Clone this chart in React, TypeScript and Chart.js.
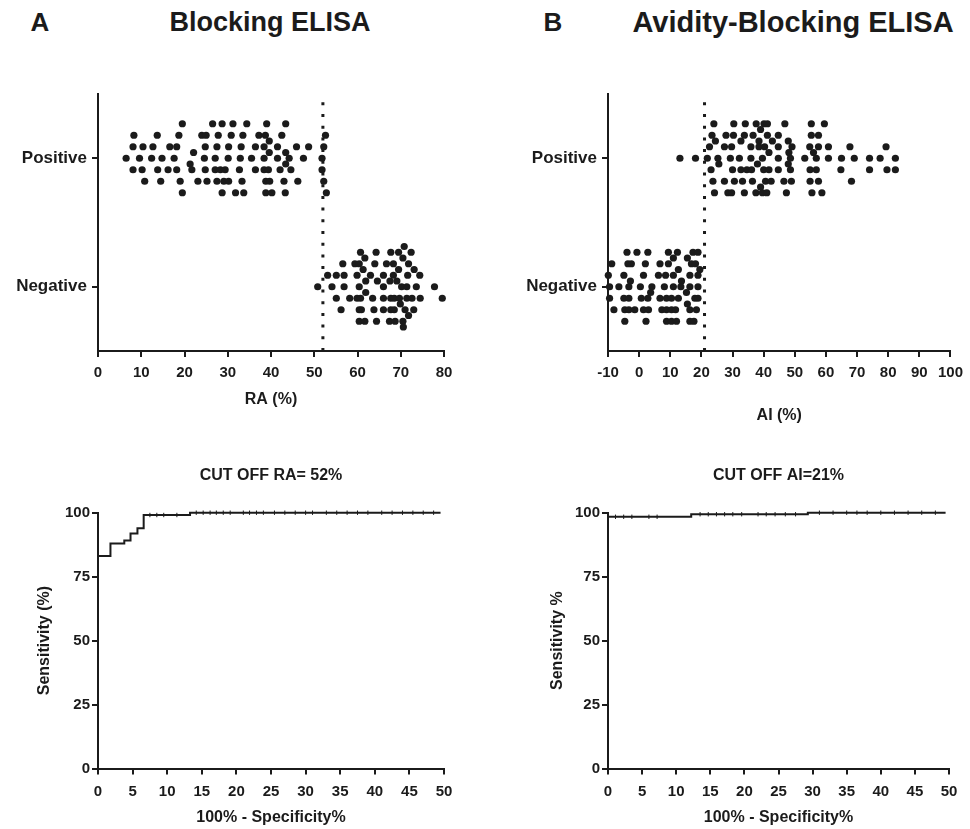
import { useEffect, useRef } from 'react';
import { Chart, registerables } from 'chart.js';

Chart.register(...registerables);

const FONT = 'Arial, "Liberation Sans", Helvetica, sans-serif';
const INK = '#1b1b1b';

// ---------- Dot plots (top row) ----------
const groupCategories = ['Negative', 'Positive'];
type Lane = { lane: number; values: number[] };

// Panel A: Blocking ELISA, RA (%)
const blockingPositiveRA: Lane[] = [
  { lane: 3, values: [19.5, 26.5, 28.7, 31.2, 34.4, 39, 43.4] },
  { lane: 2, values: [8.3, 13.7, 18.7, 24, 25, 27.8, 30.8, 33.5, 37.2, 38.7, 42.5, 52.6] },
  { lane: 1.5, values: [39.6] },
  { lane: 1, values: [8.1, 10.4, 12.7, 16.6, 18.2, 24.8, 27.5, 30.2, 33.1, 36.4, 38.4, 41.5, 45.9, 48.7, 52.2] },
  { lane: 0.5, values: [22.1, 39.6, 43.4] },
  { lane: 0, values: [6.5, 9.6, 12.4, 14.8, 17.6, 24.6, 27.1, 30.1, 32.9, 35.5, 38.4, 41.5, 44.2, 47.5, 51.8] },
  { lane: -0.5, values: [21.3, 43.4] },
  { lane: -1, values: [8.1, 10.2, 13.8, 16.2, 18.2, 21.7, 24.8, 27.1, 28.3, 29.4, 32.7, 36.4, 38.4, 39.4, 42.1, 44.6, 51.8] },
  { lane: -2, values: [10.8, 14.5, 19, 23.1, 25.2, 27.5, 29.1, 30.2, 33.3, 38.8, 39.7, 43, 46.2, 52.2] },
  { lane: -3, values: [19.5, 28.7, 31.8, 33.7, 38.8, 40.2, 43.3, 52.8] },
];
const blockingNegativeRA: Lane[] = [
  { lane: 3.5, values: [70.8] },
  { lane: 3, values: [60.7, 64.3, 67.7, 69.5, 72.4] },
  { lane: 2.5, values: [61.7, 70.5] },
  { lane: 2, values: [56.6, 59.4, 60.4, 64, 66.7, 68.3, 71.8] },
  { lane: 1.5, values: [61.3, 69.5, 73.1] },
  { lane: 1, values: [53.1, 55.1, 56.9, 59.9, 63, 66, 68.3, 71.6, 74.4] },
  { lane: 0.5, values: [61.9, 64.6, 67.5, 69.1] },
  { lane: 0, values: [50.8, 54.1, 56.9, 60.4, 66, 70.2, 71.4, 73.6, 77.8] },
  { lane: -0.5, values: [61.9] },
  { lane: -1, values: [55.1, 58.2, 59.9, 60.7, 63.5, 66, 67.7, 68.5, 69.7, 71.4, 72.6, 74.5, 79.6] },
  { lane: -1.5, values: [69.9] },
  { lane: -2, values: [56.2, 60.4, 60.9, 63.8, 66, 67.7, 68.5, 71, 73] },
  { lane: -2.5, values: [71.8] },
  { lane: -3, values: [60.4, 61.7, 64.4, 67.4, 68.7, 70.5] },
  { lane: -3.5, values: [70.6] },
];
const blockingCutoffRA = 52;
const raAxisRange = [0, 80, 10];

// Panel B: Avidity-Blocking ELISA, AI (%)
const avidityPositiveAI: Lane[] = [
  { lane: 3, values: [24, 30.4, 34.1, 37.6, 40.1, 41.2, 46.8, 55.3, 59.5] },
  { lane: 2.5, values: [39] },
  { lane: 2, values: [23.4, 27.9, 30.3, 33.8, 36.6, 41.2, 44.7, 55.3, 57.6] },
  { lane: 1.5, values: [24.5, 32.7, 38.5, 42.8, 47.9] },
  { lane: 1, values: [22.6, 27.4, 29.7, 35.9, 38.5, 40.3, 44.7, 49.1, 54.8, 57.6, 60.8, 67.7, 79.3] },
  { lane: 0.5, values: [41.7, 48.1, 56] },
  { lane: 0, values: [13.1, 18.1, 21.9, 25.3, 29.3, 32.2, 35.9, 39.6, 44.7, 48.6, 53.2, 56.9, 60.8, 65, 69.1, 74, 77.4, 82.3] },
  { lane: -0.5, values: [25.6, 38, 47.9] },
  { lane: -1, values: [23.1, 30, 32.7, 34.6, 36.1, 40, 41.7, 44.7, 48.6, 54.9, 56.9, 64.8, 74, 79.6, 82.3] },
  { lane: -2, values: [23.7, 27.4, 30.6, 33.2, 36.4, 40.6, 42.4, 46.5, 48.9, 54.9, 57.6, 68.2] },
  { lane: -2.5, values: [39] },
  { lane: -3, values: [24.2, 28.5, 29.7, 33.8, 37.5, 39.6, 41, 47.3, 55.5, 58.7] },
];
const avidityNegativeAI: Lane[] = [
  { lane: 3, values: [-3.9, -0.7, 2.8, 9.4, 12.3, 17.3, 18.9] },
  { lane: 2.5, values: [11, 15.5] },
  { lane: 2, values: [-8.8, -3.6, -2.5, 2, 6.7, 9.4, 16.8, 18.1] },
  { lane: 1.5, values: [12.6, 19.5] },
  { lane: 1, values: [-9.9, -4.9, 1.4, 6.2, 8.5, 11, 16.3, 18.9] },
  { lane: 0.5, values: [-2.8, 13.6] },
  { lane: 0, values: [-9.5, -6.5, -3.3, 0.4, 4.1, 8.1, 11, 13.4, 16.3, 18.9] },
  { lane: -0.5, values: [3.7, 15.2] },
  { lane: -1, values: [-9.5, -4.9, -3.3, 0.7, 2.8, 6.7, 8.8, 10.4, 12.6, 17.9, 18.9] },
  { lane: -1.5, values: [15.5] },
  { lane: -2, values: [-8.1, -4.6, -3.3, -1.4, 1.4, 3, 7.3, 8.8, 10.4, 11.7, 16.3, 18.4] },
  { lane: -3, values: [-4.6, 2.2, 8.8, 10.4, 12, 16.3, 17.6] },
];
const avidityCutoffAI = 21;
const aiAxisRange = [-10, 100, 10];

// ---------- ROC curves (bottom row) ----------
const rocBlockingFPR = [0, 0, 1.8, 1.8, 3.8, 3.8, 4.7, 4.7, 5.7, 5.7, 6.6, 6.6, 13.3, 13.3, 49.5];
const rocBlockingSens = [0, 83.1, 83.1, 88, 88, 89.1, 89.1, 91.9, 91.9, 93.9, 93.9, 99.1, 99.1, 100, 100];
const rocBlockingMarkFPR = [7.5, 8.5, 9.5, 11.4, 14.2, 15.2, 16.2, 17.1, 18.1, 19.1, 21, 21.9, 22.9, 23.9, 25.5, 27, 28.5, 30, 31, 33, 34.5, 36, 37.5, 39, 41, 42.5, 44, 45.5, 47, 48.5];
const rocBlockingMarkSens = [99.1, 99.1, 99.1, 99.1, 100, 100, 100, 100, 100, 100, 100, 100, 100, 100, 100, 100, 100, 100, 100, 100, 100, 100, 100, 100, 100, 100, 100, 100, 100, 100];

const rocAvidityFPR = [0, 0, 12.2, 12.2, 29.3, 29.3, 49.5];
const rocAviditySens = [0, 98.4, 98.4, 99.4, 99.4, 100, 100];
const rocAvidityMarkFPR = [1.1, 2.3, 3.5, 6, 7.2, 13.5, 14.7, 15.9, 17.1, 18.3, 19.6, 22, 23.2, 24.5, 26, 27.5, 31, 33, 35, 36.5, 38, 40, 42, 44, 46, 48];
const rocAvidityMarkSens = [98.4, 98.4, 98.4, 98.4, 98.4, 99.4, 99.4, 99.4, 99.4, 99.4, 99.4, 99.4, 99.4, 99.4, 99.4, 99.4, 100, 100, 100, 100, 100, 100, 100, 100, 100, 100];
const rocXRange = [0, 50, 5];
const rocYRange = [0, 100, 25];

// ---------- helpers ----------
const LANE_STEP = 0.0895;

function lanesToPoints(lanes: Lane[], category: number) {
  return lanes.flatMap((l) => l.values.map((v) => ({ x: v, y: category + l.lane * LANE_STEP })));
}
function zipPoints(xs: number[], ys: number[]) {
  return xs.map((x, i) => ({ x, y: ys[i] }));
}

const tickFont = { family: FONT, size: 15, weight: 'bold' as const };
const categoryFont = { family: FONT, size: 17, weight: 'bold' as const };
const titleFont = { family: FONT, size: 16, weight: 'bold' as const };

function axisBase() {
  return {
    type: 'linear' as const,
    grid: { display: true, drawOnChartArea: false, drawTicks: true, tickLength: 6, color: INK, lineWidth: 2 },
    border: { display: true, color: INK, width: 2 },
  };
}

function dotPlotConfig(p: {
  positive: Lane[]; negative: Lane[]; cutoff: number; range: number[]; xTitle: string;
  yWidth: number; padRight: number; xTitlePadBottom: number; yTickPad: number;
}): any {
  const dot = { pointRadius: 3.6, pointBackgroundColor: INK, pointBorderWidth: 0, clip: false };
  return {
    type: 'scatter',
    data: {
      datasets: [
        { data: lanesToPoints(p.positive, 1), ...dot },
        { data: lanesToPoints(p.negative, 0), ...dot },
        {
          data: [{ x: p.cutoff, y: -0.5 }, { x: p.cutoff, y: 1.5 }],
          showLine: true, borderColor: INK, borderWidth: 3, borderDash: [3, 8.7], pointRadius: 0, clip: false,
        },
      ],
    },
    options: {
      responsive: false,
      animation: false,
      events: [],
      layout: { padding: { left: 0, top: 34, right: p.padRight, bottom: 0 } },
      plugins: { legend: { display: false }, tooltip: { enabled: false } },
      scales: {
        x: {
          ...axisBase(),
          min: p.range[0], max: p.range[1],
          ticks: { stepSize: p.range[2], color: INK, font: tickFont, padding: 7, autoSkip: false, maxTicksLimit: 30, maxRotation: 0 },
          title: { display: true, text: p.xTitle, color: INK, font: titleFont, padding: { top: 0, bottom: p.xTitlePadBottom } },
          afterFit: (s: any) => { s.height = 79; },
        },
        y: {
          ...axisBase(),
          min: -0.5, max: 1.5,
          afterBuildTicks: (s: any) => { s.ticks = [{ value: 0 }, { value: 1 }]; },
          ticks: { color: INK, font: categoryFont, padding: p.yTickPad, callback: (v: number) => groupCategories[v] ?? '' },
          afterFit: (s: any) => { s.width = p.yWidth; },
        },
      },
    },
  };
}

function rocConfig(p: {
  fpr: number[]; sens: number[]; markFpr: number[]; markSens: number[]; title: string; yTitle: string;
  yWidth: number; padRight: number; yTitlePad: number;
}): any {
  return {
    type: 'scatter',
    data: {
      datasets: [
        { data: zipPoints(p.fpr, p.sens), showLine: true, borderColor: INK, borderWidth: 2, pointRadius: 0, clip: false },
        {
          data: zipPoints(p.markFpr, p.markSens), pointStyle: 'line', rotation: 90, pointRadius: 2.2,
          pointBorderColor: INK, pointBorderWidth: 1, clip: false,
        },
      ],
    },
    options: {
      responsive: false,
      animation: false,
      events: [],
      layout: { padding: { left: 0, top: 0, right: p.padRight, bottom: 0 } },
      plugins: {
        legend: { display: false },
        tooltip: { enabled: false },
        title: {
          display: true, text: p.title, color: INK, font: titleFont, fullSize: false,
          padding: { top: 11.4, bottom: 27.1 },
        },
      },
      scales: {
        x: {
          ...axisBase(),
          min: rocXRange[0], max: rocXRange[1],
          ticks: { stepSize: rocXRange[2], color: INK, font: tickFont, padding: 8, autoSkip: false, maxTicksLimit: 30, maxRotation: 0 },
          title: { display: true, text: '100% - Specificity%', color: INK, font: titleFont, padding: { top: 0, bottom: 1.4 } },
          afterFit: (s: any) => { s.height = 60.5; },
        },
        y: {
          ...axisBase(),
          min: rocYRange[0], max: rocYRange[1],
          ticks: { stepSize: rocYRange[2], color: INK, font: tickFont, padding: 2 },
          title: { display: true, text: p.yTitle, color: INK, font: titleFont, padding: { top: p.yTitlePad, bottom: 0 } },
          afterFit: (s: any) => { s.width = p.yWidth; },
        },
      },
    },
  };
}

function ChartBox(props: { left: number; top: number; width: number; height: number; config: () => any }) {
  const ref = useRef<HTMLCanvasElement>(null);
  useEffect(() => {
    const chart = new Chart(ref.current as HTMLCanvasElement, props.config());
    return () => chart.destroy();
  }, []);
  return (
    <canvas
      ref={ref}
      width={props.width}
      height={props.height}
      style={{ position: 'absolute', left: props.left, top: props.top, width: props.width, height: props.height }}
    />
  );
}

function Label(props: { x: number; y: number; size: number; children: string }) {
  return (
    <div
      style={{
        position: 'absolute', left: props.x, top: props.y, transform: 'translate(-50%, -50%)',
        fontFamily: FONT, fontWeight: 'bold', fontSize: props.size, lineHeight: 1, color: INK, whiteSpace: 'nowrap',
      }}
    >
      {props.children}
    </div>
  );
}

export default function App() {
  return (
    <div style={{ position: 'absolute', left: 0, top: 0, width: 970, height: 829, background: '#fff', overflow: 'hidden' }}>
      <Label x={40} y={22} size={26}>A</Label>
      <Label x={270} y={22} size={27}>Blocking ELISA</Label>
      <Label x={553} y={22} size={26}>B</Label>
      <Label x={793} y={22} size={29}>Avidity-Blocking ELISA</Label>

      <ChartBox
        left={0} top={60} width={480} height={370}
        config={() => dotPlotConfig({
          positive: blockingPositiveRA, negative: blockingNegativeRA, cutoff: blockingCutoffRA, range: raAxisRange,
          xTitle: 'RA (%)', yWidth: 98, padRight: 36, xTitlePadBottom: 20.4, yTickPad: 5,
        })}
      />
      <ChartBox
        left={490} top={60} width={480} height={370}
        config={() => dotPlotConfig({
          positive: avidityPositiveAI, negative: avidityNegativeAI, cutoff: avidityCutoffAI, range: aiAxisRange,
          xTitle: 'AI (%)', yWidth: 118, padRight: 17, xTitlePadBottom: 4.4, yTickPad: 5,
        })}
      />
      <ChartBox
        left={0} top={455} width={480} height={374}
        config={() => rocConfig({
          fpr: rocBlockingFPR, sens: rocBlockingSens, markFpr: rocBlockingMarkFPR, markSens: rocBlockingMarkSens,
          title: 'CUT OFF RA= 52%', yTitle: 'Sensitivity (%)', yWidth: 98, padRight: 36, yTitlePad: 35.4,
        })}
      />
      <ChartBox
        left={490} top={455} width={480} height={374}
        config={() => rocConfig({
          fpr: rocAvidityFPR, sens: rocAviditySens, markFpr: rocAvidityMarkFPR, markSens: rocAvidityMarkSens,
          title: 'CUT OFF AI=21%', yTitle: 'Sensitivity %', yWidth: 118, padRight: 21, yTitlePad: 58.4,
        })}
      />
    </div>
  );
}
